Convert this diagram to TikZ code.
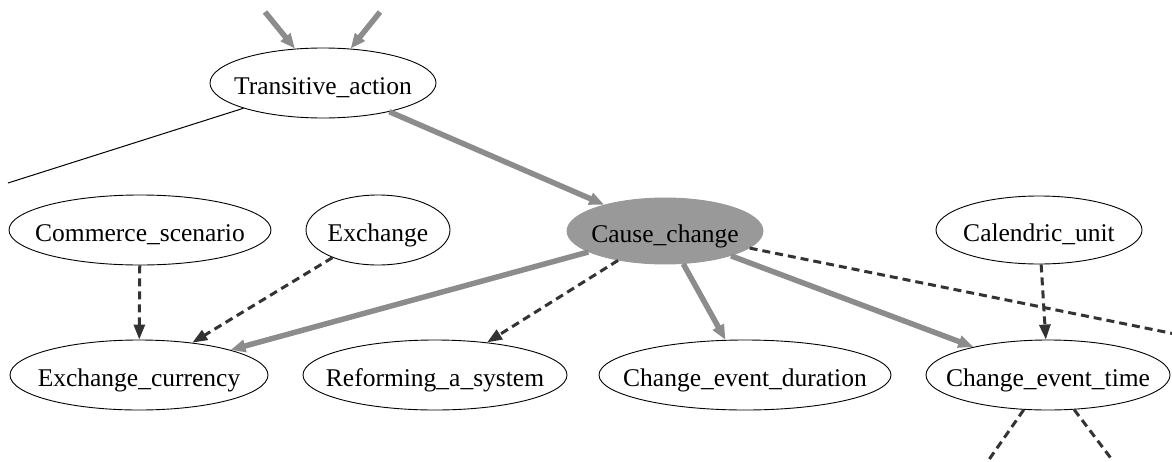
\documentclass[tikz,border=0pt]{standalone}
\usepackage{fontspec}
\setmainfont{Liberation Serif}
\usetikzlibrary{shapes.geometric,arrows.meta}

\definecolor{edgegray}{HTML}{8C8C8C}
\definecolor{fillgray}{HTML}{999999}
\definecolor{darkdash}{HTML}{333333}

\tikzset{
  frame/.style={draw=black, line width=0.9pt, ellipse, inner sep=0pt},
  hubframe/.style={frame, draw=fillgray, fill=fillgray},
  caption/.style={label={[font=\fontsize{25.5}{30}\selectfont, inner sep=0pt,
    text height=18pt, text depth=6pt, yshift=-5pt]center:#1}},
  strong/.style={draw=edgegray, line width=5.5pt,
    -{Triangle[length=15pt,width=12pt]}},
  weak/.style={draw=darkdash, line width=3pt, dash pattern=on 8pt off 5pt,
    -{Triangle[length=15pt,width=11pt]}},
  weakplain/.style={draw=darkdash, line width=3pt, dash pattern=on 8pt off 5pt},
  thin/.style={draw=black, line width=1pt},
}

\begin{document}
\begin{tikzpicture}[x=1pt,y=-1pt]
\useasboundingbox (0,0) rectangle (1172,461);

% frames: fixed-size ellipses with their captions set on a common baseline
\node[frame, minimum width=226pt, minimum height=70pt, caption=Transitive\_action] (ta) at (323,83) {};
\node[frame, minimum width=262pt, minimum height=70pt, caption=Commerce\_scenario] (cs) at (140,230) {};
\node[frame, minimum width=144pt, minimum height=70pt, caption=Exchange] (ex) at (378,230) {};
\node[hubframe, minimum width=196pt, minimum height=66pt, caption=Cause\_change] (cc) at (665,231) {};
\node[frame, minimum width=206pt, minimum height=68pt, caption=Calendric\_unit] (cu) at (1039,230) {};
\node[frame, minimum width=258pt, minimum height=70pt, caption=Exchange\_currency] (ecu) at (139,375) {};
\node[frame, minimum width=264pt, minimum height=70pt, caption=Reforming\_a\_system] (rfs) at (435,375) {};
\node[frame, minimum width=292pt, minimum height=70pt, caption=Change\_event\_duration] (ced) at (745,375) {};
\node[frame, minimum width=244pt, minimum height=70pt, caption=Change\_event\_time] (cet) at (1048,375) {};

% ends of edges that continue beyond the border
\coordinate (upA) at (265,12);
\coordinate (upB) at (380,12);
\coordinate (leftEnd) at (8,183);
\coordinate (rightEnd) at (1180,335);
\coordinate (downA) at (988,461);
\coordinate (downB) at (1113,461);

% edges
\draw[strong] (upA) -- (ta);
\draw[strong] (upB) -- (ta);
\draw[thin] (ta) -- (leftEnd);
\draw[strong] (ta) -- (cc);
\draw[weak] (cs) -- (ecu);
\draw[weak] (ex) -- (ecu);
\draw[strong] (cc) -- (ecu);
\draw[weak] (cc) -- (rfs);
\draw[strong] (cc) -- (ced);
\draw[strong] (cc) -- (cet);
\draw[weakplain] (cc) -- (rightEnd);
\draw[weak] (cu) -- (cet);
\draw[weakplain] (cet) -- (downA);
\draw[weakplain] (cet) -- (downB);
\end{tikzpicture}
\end{document}
